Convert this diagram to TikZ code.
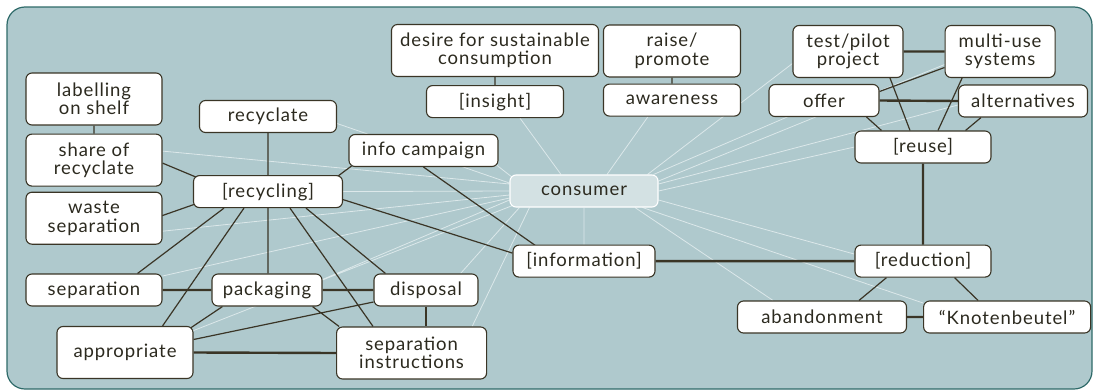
\documentclass[tikz,border=0pt]{standalone}
\usepackage{fontspec}
\setmainfont[LetterSpace=5]{Lato}
\usetikzlibrary{
        backgrounds,
        positioning
    }
\definecolor{panelfill}{HTML}{AFC9CD}
\definecolor{paneldraw}{HTML}{2E6A69}
\definecolor{linkcol}{HTML}{3A3526}
\definecolor{textcol}{HTML}{2C2A1F}
\definecolor{hubfill}{HTML}{D3E1E3}
\definecolor{raycol}{HTML}{DCE8EA}
\tikzset{box/.style={draw=linkcol,fill=white,line width=1.1pt,rounded corners=6pt,
        inner sep=0pt,minimum height=32pt,align=center,text=textcol,
        font=\fontsize{18.5}{18.5}\selectfont}}
\tikzset{tallbox/.style={box,minimum height=52pt}}
\tikzset{hub/.style={box,draw=white,fill=hubfill}}
\tikzset{link/.style={draw=linkcol,line width=1.2pt},
        strong/.style={draw=linkcol,line width=2.4pt},
        ray/.style={draw=raycol,line width=0.8pt}}

\begin{document}
\begin{tikzpicture}[x=1pt,y=-1pt]
    \useasboundingbox (0,0) rectangle (1093,391);
    % recycling cluster
    \node[tallbox,minimum width=136pt] (label) at (94,99) {labelling\\on shelf};
    \node[tallbox,minimum width=136pt] (share) [below=8pt of label] {share of\\recyclate};
    \node[tallbox,minimum width=136pt] (waste) [below=5pt of share] {waste\\separation};
    \node[box,minimum width=137pt] (recyclate) at (268,116.5) {recyclate};
    \node[box,minimum width=149pt] (recycling) [below=42pt of recyclate] {[recycling]};
    \node[box,minimum width=149pt] (campaign) at (423.5,150.5) {info campaign};
    \node[box,minimum width=136pt] (separation) at (94,290) {separation};
    \node[box,minimum width=110pt] (packaging) at (267,290) {packaging};
    \node[box,minimum width=104pt] (disposal) at (426,290) {disposal};
    \node[tallbox,minimum width=136pt] (appropriate) at (125,352.5) {appropriate};
    \node[tallbox,minimum width=150pt] (instructions) at (411.6,353) {separation\\instructions};
    % top row
    \node[tallbox,minimum width=207pt] (desire) at (495,50.5) {desire for sustainable\\consumption};
    \node[box,minimum width=137pt] (insight) [below=8pt of desire] {[insight]};
    \node[tallbox,minimum width=137pt] (raise) at (672,51) {raise/\\promote};
    \node[box,minimum width=137pt] (awareness) [below=6pt of raise] {awareness};
    % reuse cluster
    \node[tallbox,minimum width=110pt] (pilot) at (848,51.5) {test/pilot\\project};
    \node[tallbox,minimum width=110pt] (multi) [right=41pt of pilot] {multi-use\\systems};
    \node[box,minimum width=110pt] (offer) at (824,100.5) {offer};
    \node[box,minimum width=129pt] (alter) at (1023,101) {alternatives};
    \node[box,minimum width=136pt] (reuse) at (923,147) {[reuse]};
    \node[box,minimum width=136pt] (reduction) [below=81pt of reuse] {[reduction]};
    \node[box,minimum width=169pt] (abandon) at (822,317) {abandonment};
    \node[box,minimum width=167pt] (knot) [right=16pt of abandon] {“Knotenbeutel”};
    % centre
    \node[hub,minimum width=148pt] (consumer) at (584,191) {consumer};
    \node[box,minimum width=142pt] (information) [below=37pt of consumer] {[information]};

    \begin{scope}[on background layer]
    \draw[fill=panelfill,draw=paneldraw,line width=1.2pt,rounded corners=18pt]
        (7,7) rectangle (1092,389);
    % light rays out of the consumer
    \path[ray]
        ([shift={(0,-8)}]consumer.west) -- ([shift={(0,7)}]recyclate.east)
        ([shift={(3,3)}]consumer.north west) -- ([shift={(-2,-2)}]campaign.south east)
        ([shift={(0,-7)}]consumer.west) -- ([shift={(0,-9)}]share.east)
        (consumer.west) -- (recycling.east)
        ([shift={(0,4)}]consumer.west) -- ([shift={(0,13)}]waste.east)
        ([shift={(0,7)}]consumer.west) -- ([shift={(0,-14)}]separation.east)
        ([shift={(0,9)}]consumer.west) -- ([shift={(0,6)}]packaging.north east)
        ([shift={(3,-2)}]consumer.south west) -- ([shift={(-1,5)}]appropriate.north east)
        ([shift={(10,0)}]consumer.south west) -- ([shift={(-18,0)}]disposal.north east)
        ([shift={(20,0)}]consumer.south west) -- ([shift={(-15,0)}]instructions.north east)
        (consumer.south) -- (information.north)
        ([shift={(51,0)}]consumer.south) -- ([shift={(-49,0)}]abandon.north)
        ([shift={(-16,0)}]consumer.south east) -- ([shift={(0,-14)}]knot.west)
        ([shift={(0,9)}]consumer.east) -- ([shift={(0,-7)}]reduction.west)
        (consumer.east) -- (reuse.west)
        ([shift={(0,-7)}]consumer.east) -- ([shift={(0,4)}]alter.west)
        ([shift={(-5,0)}]consumer.north east) -- ([shift={(21,-1)}]offer.south west)
        ([shift={(0,-10)}]consumer.east) -- ([shift={(0,13)}]multi.west)
        ([shift={(-11,0)}]consumer.north east) -- ([shift={(0,12)}]pilot.west)
        ([shift={(23,0)}]consumer.north) -- ([shift={(-24,0)}]awareness.south)
        ([shift={(-23,0)}]consumer.north) -- ([shift={(25,0)}]insight.south);
    % links
    \path[link]
        (label.south) -- (share.north)
        ([shift={(0,3)}]share.east) -- ([shift={(3,2)}]recycling.north west)
        ([shift={(-2,-2)}]waste.east) -- ([shift={(2,-4)}]recycling.south west)
        (recyclate.south) -- (recycling.north)
        ([shift={(3,-1)}]campaign.south west) -- ([shift={(-5,1)}]recycling.north east)
        (campaign.south) -- ([shift={(23,1)}]information.north west)
        ([shift={(0,8)}]recycling.east) -- ([shift={(0,-8)}]information.west)
        ([shift={(31,0)}]recycling.south west) -- ([shift={(-25,0)}]separation.north east)
        ([shift={(51,0)}]recycling.south west) -- ([shift={(-31,0)}]appropriate.north east)
        (recycling.south) -- (recycling.south |- packaging.north)
        ([shift={(22,0)}]recycling.south) -- ([shift={(37,0)}]instructions.north west)
        ([shift={(38,0)}]recycling.south) -- ([shift={(12,0)}]disposal.north west)
        ([shift={(11,0)}]packaging.south west) -- ([shift={(-3,2)}]appropriate.north east)
        ([shift={(-10,0)}]packaging.south east) -- ([shift={(3,0)}]instructions.north west)
        ([shift={(0,12)}]disposal.west) -- ([shift={(0,-13)}]appropriate.east)
        (desire.south) -- (insight.north)
        (raise.south) -- (awareness.north)
        ([shift={(0,16)}]multi.west) -- ([shift={(0,-9)}]offer.east)
        ([shift={(-13,0)}]offer.south east) -- ([shift={(27,0)}]reuse.north west)
        ([shift={(42,0)}]pilot.south) -- ([shift={(-13,0)}]reuse.north)
        ([shift={(-38,0)}]multi.south) -- ([shift={(15,0)}]reuse.north)
        ([shift={(-42,0)}]alter.south) -- ([shift={(-26,0)}]reuse.north east)
        ([shift={(32,0)}]reduction.south west) -- ([shift={(37,0)}]abandon.north)
        ([shift={(-37,0)}]reduction.south east) -- ([shift={(-29,0)}]knot.north);
    \path[link,line width=1.8pt]
        (disposal.south) -- (disposal.south |- instructions.north);
    \path[strong]
        (separation.east) -- (packaging.west)
        (packaging.east) -- (disposal.west)
        (appropriate.east) -- (instructions.west)
        (pilot.east) -- (multi.west)
        (offer.east) -- (alter.west)
        (reuse.south) -- (reduction.north)
        (information.east) -- (reduction.west)
        (abandon.east) -- (knot.west);
    \end{scope}
\end{tikzpicture}
\end{document}
